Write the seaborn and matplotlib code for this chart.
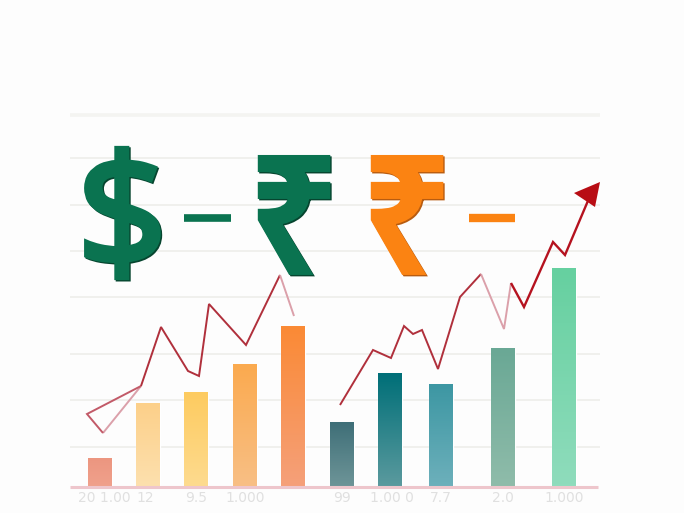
import numpy as np
import pandas as pd
import matplotlib
matplotlib.use("Agg")
import matplotlib.pyplot as plt
import matplotlib.patheffects as pe
from matplotlib.colors import LinearSegmentedColormap
import seaborn as sns

# --- data (horizontal position, height above the baseline) ---
bar_x = [100, 148, 196, 245, 293, 342, 390, 441, 503, 564]
bar_h = [29, 84, 95, 123, 161, 65, 114, 103, 139, 219]
bar_top = ["#ec9680", "#fcd08a", "#fdcb60", "#fbaa4f", "#fb8a35",
           "#3f6f78", "#006f78", "#3d97a3", "#6aa895", "#66d0a0"]
bar_bottom = ["#f0a18c", "#fde0ae", "#fedb8f", "#f8bf85", "#f5a07a",
              "#6e9598", "#5b9a9e", "#6db0bb", "#8fbcaa", "#8fdcbc"]
grid_levels = [40, 87, 133, 190, 236, 282, 329]
tick_x = [104, 145, 196, 245, 342, 392, 441, 503, 564]
tick_labels = ["20 1.00", "12", "9.5", "1.000", "99", "1.00 0", "7.7", "2.0", "1.000"]

loop_x = [141, 87, 103]
loop_y = [101, 73, 54]
loop_pale_x = [103, 141]
loop_pale_y = [54, 101]
left_x = [141, 161, 188, 199, 209, 246, 280]
left_y = [101, 160, 116, 111, 183, 142, 212]
left_end_x = [280, 294]
left_end_y = [212, 171]
right_x = [340, 373, 391, 404, 413, 422, 438, 460, 481]
right_y = [82, 137, 129, 161, 153, 157, 118, 190, 213]
right_pale_x = [481, 504, 511]
right_pale_y = [213, 158, 204]
right_rise_x = [511, 524, 553, 565, 590]
right_rise_y = [204, 180, 245, 232, 291]
arrow_x = [600, 574, 595]
arrow_y = [305, 294, 280]

sns.set_theme(style="white")
fig = plt.figure(figsize=(6.84, 5.13), dpi=100, facecolor="#fdfdfd")
ax = fig.add_axes([0, 0, 1, 1])
ax.set_facecolor("#fdfdfd")
ax.set_axis_off()

XL, YL = (0, 684), (-26, 487)

# grid
ax.hlines(grid_levels, 70, 600, color="#efefec", lw=1.3, zorder=0)
ax.hlines(372, 70, 600, color="#f4f4f1", lw=2.6, zorder=0)

# bars
df = pd.DataFrame({"x": bar_x, "h": bar_h, "c": [str(v) for v in bar_x]})
sns.barplot(data=df, x="x", y="h", hue="c", palette=dict(zip(df.c, bar_top)),
            native_scale=True, width=0.5, legend=False, ax=ax, dodge=False,
            saturation=1, zorder=2)
patches = sorted([p for p in ax.patches if p.get_height() > 0], key=lambda p: p.get_x())
for p, top, bot in zip(patches, bar_top, bar_bottom):
    cmap = LinearSegmentedColormap.from_list("g", [top, bot])
    im = ax.imshow(np.linspace(0, 1, 64)[:, None], cmap=cmap, aspect="auto", origin="upper",
                   extent=(p.get_x(), p.get_x() + p.get_width(), 0, p.get_height()), zorder=3)
    im.set_clip_path(p)

# baseline
ax.hlines(0, 70, 598, color="#eec6cc", lw=2.2, zorder=4)

# lines
dark = "#b0303c"
pale = "#dba0aa"
for xs, ys, col, lw in [
    (loop_pale_x, loop_pale_y, pale, 1.4),
    (loop_x, loop_y, "#c25a68", 1.4),
    (left_x, left_y, dark, 1.4),
    (left_end_x, left_end_y, pale, 1.4),
    (right_x, right_y, dark, 1.4),
    (right_pale_x, right_pale_y, pale, 1.4),
    (right_rise_x, right_rise_y, "#b5121f", 1.7),
]:
    sns.lineplot(x=xs, y=ys, sort=False, estimator=None, color=col, lw=lw, ax=ax, zorder=5,
                 solid_joinstyle="miter", solid_capstyle="butt")
ax.fill(arrow_x, arrow_y, color="#b80d14", lw=0, zorder=6)

# currency symbols
green, orange = "#0a7350", "#fb8312"
def sym(x, y, s, col, size, shadow, fat):
    ax.text(x, y, s, color=col, fontsize=size, family="Noto Sans",
            ha="center", va="center", zorder=7,
            path_effects=[
                pe.Stroke(linewidth=fat, foreground=shadow, offset=(1, -1), joinstyle="miter"),
                pe.Stroke(linewidth=fat, foreground=col, joinstyle="miter"),
                pe.Normal()])
sym(122, 260, "$", green, 114, "#06452f", 3.5)
sym(294, 257, "\u20b9", green, 114, "#06452f", 5)
sym(407, 257, "\u20b9", orange, 114, "#b85c10", 5)
ax.hlines(269, 184, 231, color=green, lw=5.5, zorder=7)
ax.hlines(269, 469, 515, color=orange, lw=6, zorder=7)

# tick labels
for x, t in zip(tick_x, tick_labels):
    ax.text(x, -11, t, color="#e0e0e0", fontsize=10, ha="center", va="center", zorder=2)

ax.set_xlim(*XL)
ax.set_ylim(*YL)
fig.savefig("out.png", dpi=100, facecolor=fig.get_facecolor())
